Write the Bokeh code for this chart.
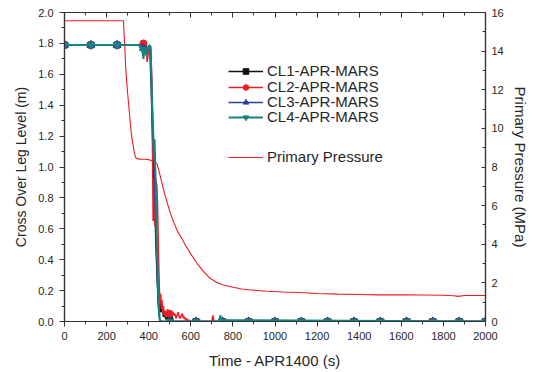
from bokeh.plotting import figure
from bokeh.models import (Range1d, LinearAxis, Legend, LegendItem,
                          SingleIntervalTicker, PrintfTickFormatter)
from bokeh.embed import file_html
from bokeh.resources import INLINE

# ---------------- data ----------------
cl1_t = [0, 350, 370, 380, 390, 400, 405, 412, 418, 425, 432, 438, 444, 450, 455, 460, 465, 470, 475, 480, 490, 500, 520, 2000]
cl1_v = [1.79, 1.79, 1.78, 1.77, 1.74, 1.76, 1.78, 1.50, 1.20, 0.90, 0.60, 0.35, 0.15, 0.03, 0.12, 0.06, 0.10, 0.03, 0.05, 0.02, 0.01, 0.01, 0.0, 0.0]

cl2_t = [0, 360, 370, 375, 380, 385, 390, 393, 396, 400, 405, 410, 414, 417, 419, 421, 423, 425, 427, 429, 431, 433, 436, 439, 442, 445, 448, 451, 454, 457, 460, 463, 466, 470, 474, 478, 482, 486, 490, 495, 500, 505, 510, 515, 520, 525, 530, 535, 540, 545, 550, 555, 560, 565, 570, 575, 580, 585, 590, 600, 700, 705, 710, 712, 2000]
cl2_v = [1.79, 1.79, 1.80, 1.81, 1.80, 1.78, 1.73, 1.68, 1.72, 1.76, 1.78, 1.78, 1.60, 1.30, 0.95, 0.65, 0.80, 0.92, 0.70, 0.62, 0.85, 0.93, 0.90, 0.88, 0.75, 0.55, 0.35, 0.20, 0.12, 0.18, 0.08, 0.14, 0.06, 0.10, 0.04, 0.07, 0.03, 0.06, 0.08, 0.04, 0.07, 0.05, 0.03, 0.06, 0.04, 0.05, 0.02, 0.04, 0.06, 0.03, 0.02, 0.04, 0.05, 0.02, 0.03, 0.01, 0.02, 0.0, 0.01, 0.0, 0.0, 0.04, 0.0, 0.0, 0.0]

cl3_t = [0, 360, 370, 380, 390, 400, 408, 414, 420, 426, 432, 438, 444, 450, 455, 2000]
cl3_v = [1.79, 1.79, 1.76, 1.74, 1.75, 1.77, 1.78, 1.55, 1.25, 1.00, 0.70, 0.40, 0.18, 0.04, 0.0, 0.0]

cl4_t = [0, 350, 360, 370, 375, 380, 390, 398, 405, 410, 415, 418, 422, 425, 428, 432, 436, 440, 444, 448, 452, 460, 735, 740, 745, 2000]
cl4_v = [1.79, 1.79, 1.78, 1.75, 1.70, 1.76, 1.72, 1.78, 1.79, 1.70, 1.45, 1.35, 1.20, 1.05, 1.18, 0.95, 0.70, 0.45, 0.25, 0.08, 0.01, 0.0, 0.0, 0.04, 0.01, 0.0]

mk_t = [0, 125, 250, 375, 500, 625, 750, 875, 1000, 1125, 1250, 1375, 1500, 1625, 1750, 1875, 2000]
mk_cl1 = [1.79, 1.79, 1.79, 1.79, 0.01, 0, 0, 0, 0, 0, 0, 0, 0, 0, 0, 0, 0]
mk_cl2 = [1.79, 1.79, 1.79, 1.80, 0.05, 0, 0, 0, 0, 0, 0, 0, 0, 0, 0, 0, 0]
mk_cl3 = [1.79, 1.79, 1.79, 1.77, 0.0, 0, 0, 0, 0, 0, 0, 0, 0, 0, 0, 0, 0]
mk_cl4 = [1.79, 1.79, 1.79, 1.76, 0.0, 0, 0, 0, 0, 0, 0, 0, 0, 0, 0, 0, 0]

pp_t = [0, 280, 285, 290, 295, 300, 305, 310, 315, 320, 325, 330, 335, 340, 350, 360, 380, 400, 410, 420, 430, 440, 450, 460, 470, 480, 500, 520, 540, 560, 580, 600, 630, 660, 690, 720, 750, 790, 840, 900, 960, 1040, 1120, 1200, 1300, 1400, 1500, 1600, 1700, 1800, 1850, 1870, 1900, 2000]
pp_v = [15.57, 15.57, 14.5, 13.3, 12.5, 11.8, 11.2, 10.6, 10.0, 9.5, 9.2, 8.85, 8.6, 8.47, 8.42, 8.41, 8.40, 8.38, 8.35, 8.28, 8.25, 8.15, 7.75, 7.3, 6.85, 6.45, 5.7, 5.1, 4.6, 4.25, 3.85, 3.5, 3.0, 2.6, 2.25, 2.05, 1.9, 1.8, 1.68, 1.62, 1.57, 1.53, 1.50, 1.45, 1.42, 1.40, 1.38, 1.38, 1.37, 1.36, 1.33, 1.30, 1.35, 1.35]

labels = ["CL1-APR-MARS", "CL2-APR-MARS", "CL3-APR-MARS", "CL4-APR-MARS"]
pressure_label = "Primary Pressure"

# ---------------- styling ----------------
FONT = "Liberation Sans"
TXT = "#262626"
AX = "#333333"

p = figure(width=533, height=372, output_backend="svg", toolbar_location=None,
           x_range=Range1d(0, 2000), y_range=Range1d(0, 2),
           min_border_left=64, min_border_right=48, min_border_top=12,
           min_border_bottom=51)
p.extra_y_ranges = {"p": Range1d(0, 16)}
p.grid.visible = False
p.outline_line_color = AX
p.outline_line_width = 1.2
p.background_fill_color = "white"
p.border_fill_color = "white"


def style_axis(a, tin, tout, title_size="15px"):
    a.axis_line_color = AX
    a.axis_line_width = 1.2
    a.major_tick_line_color = AX
    a.minor_tick_line_color = AX
    a.major_tick_in = tin
    a.major_tick_out = tout
    a.minor_tick_in = 3 if tin else 0
    a.minor_tick_out = 3 if tout else 0
    a.major_label_text_font = FONT
    a.major_label_text_font_size = "11px"
    a.major_label_text_color = TXT
    a.axis_label_text_font = FONT
    a.axis_label_text_font_size = title_size
    a.axis_label_text_font_style = "normal"
    a.axis_label_text_color = TXT
    a.major_label_standoff = 6
    a.axis_label_standoff = 8


xa = p.xaxis[0]
xa.ticker = SingleIntervalTicker(interval=200, num_minor_ticks=2)
xa.axis_label = "Time - APR1400 (s)"
style_axis(xa, 0, 5)
xa.major_label_standoff = 5
xa.axis_label_standoff = 9

ya = p.yaxis[0]
ya.ticker = SingleIntervalTicker(interval=0.2, num_minor_ticks=2)
ya.formatter = PrintfTickFormatter(format="%.1f")
ya.axis_label = "Cross Over Leg Level (m)"
style_axis(ya, 0, 5, "14px")
ya.axis_label_standoff = 6

top = LinearAxis(ticker=SingleIntervalTicker(interval=200, num_minor_ticks=2))
style_axis(top, 5, 0)
top.major_label_text_font_size = "0px"
top.major_label_standoff = 0
top.axis_label_standoff = 0
p.add_layout(top, "above")

ra = LinearAxis(y_range_name="p", ticker=SingleIntervalTicker(interval=2, num_minor_ticks=2),
                axis_label="Primary Pressure (MPa)")
style_axis(ra, 4, 0)
ra.axis_label_standoff = 5
p.add_layout(ra, "right")

# ---------------- glyphs ----------------
colors = ["#111111", "#ee1c24", "#2b3f9e", "#16837f"]
widths = [1.5, 1.5, 1.5, 2.0]
msizes = [6, 7, 8, 8]
series = [(cl1_t, cl1_v, mk_cl1, "square"), (cl2_t, cl2_v, mk_cl2, "circle"),
          (cl3_t, cl3_v, mk_cl3, "triangle"), (cl4_t, cl4_v, mk_cl4, "inverted_triangle")]

pr = p.line(pp_t, pp_v, y_range_name="p", color="#ee1c24", line_width=1.1)

items = []
for (t, v, mv, mk), c, w, ms, lab in zip(series, colors, widths, msizes, labels):
    lr = p.line(t, v, color=c, line_width=w)
    mr = p.scatter(mk_t, mv, marker=mk, size=ms, fill_color=c, line_color=c)
    items.append(LegendItem(label=lab, renderers=[lr, mr]))
items.append(LegendItem(label=pressure_label, renderers=[pr]))


def mk_legend(its, loc):
    lg = Legend(items=its, location=loc, orientation="vertical")
    lg.label_text_font = FONT
    lg.label_text_font_size = "15px"
    lg.label_text_color = TXT
    lg.glyph_width = 35
    lg.glyph_height = 14
    lg.label_height = 14
    lg.spacing = 0
    lg.padding = 0
    lg.margin = 0
    lg.label_standoff = 4
    lg.border_line_alpha = 0
    lg.background_fill_alpha = 0
    return lg


# one legend box per row so that the row pitch matches the reference
row_offsets = [242, 226, 211, 196, 156]
for it, yo in zip(items, row_offsets):
    p.add_layout(mk_legend([it], (164, yo)), "center")

open("out.html", "w").write(file_html(p, INLINE))
